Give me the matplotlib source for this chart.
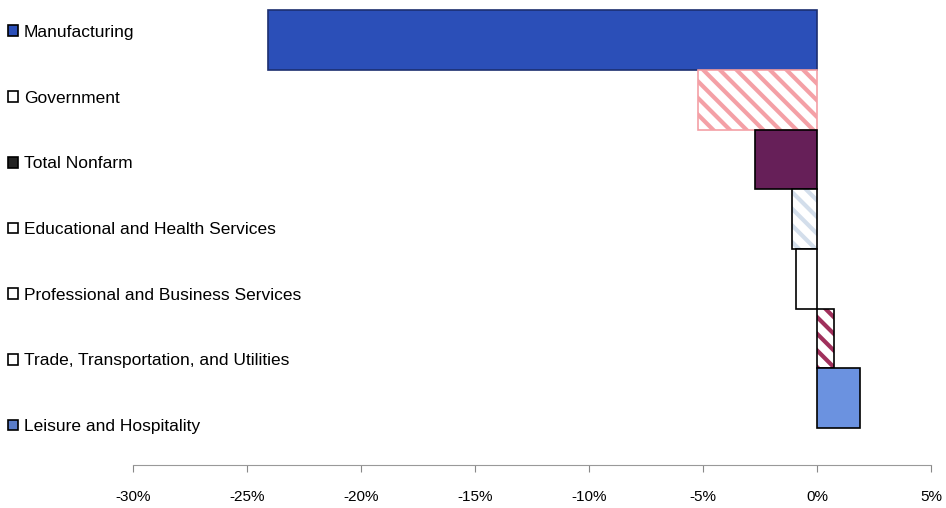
import matplotlib.pyplot as plt
import numpy as np

plt.rcParams['font.family'] = ['Liberation Sans', 'DejaVu Sans']
plt.rcParams['hatch.linewidth'] = 3.0

sectors = ['Manufacturing', 'Government', 'Total Nonfarm',
           'Educational and Health Services', 'Professional and Business Services',
           'Trade, Transportation, and Utilities', 'Leisure and Hospitality']
changes = [-24.1, -5.2, -2.7, -1.1, -0.9, 0.75, 1.9]  # percent change

fills = ['#2b4fb8', 'white', '#661f58', 'white', 'white', 'white', '#6b92e0']
hatches = [None, '\\\\', None, '\\\\', None, '\\\\', None]
hatch_colors = [None, '#f4a0a6', None, '#d3deeb', None, '#a0305c', None]
edges = ['#1c2f70', '#f4a0a6', 'black', 'black', 'black', 'black', 'black']
legend_fills = ['#2b4fb8', 'white', '#222222', 'white', 'white', 'white', '#5a7cc8']

fig = plt.figure(figsize=(9.46, 5.08), dpi=100)
ax = fig.add_axes([133 / 946, 43 / 508, 798 / 946, 465 / 508])

y = np.arange(len(sectors))
for i in range(len(sectors)):
    if hatches[i]:
        ax.barh(y[i], changes[i], height=1.0, color=fills[i], hatch=hatches[i],
                edgecolor=hatch_colors[i], linewidth=0)
        ax.barh(y[i], changes[i], height=1.0, fill=False, edgecolor=edges[i], linewidth=1.2)
    else:
        ax.barh(y[i], changes[i], height=1.0, color=fills[i], edgecolor=edges[i], linewidth=1.2)

ax.set_xlim(-30, 5)
ax.set_ylim(7.12, -0.67)
ax.set_xticks(np.arange(-30, 6, 5))
ax.set_xticklabels([f'{v}%' for v in range(-30, 6, 5)], fontsize=11)
ax.tick_params(axis='x', direction='out', length=5, color='#888888', pad=13)
ax.set_yticks([])
for s in ['top', 'right', 'left']:
    ax.spines[s].set_visible(False)
ax.spines['bottom'].set_color('#999999')

# legend on the left side
handles = [plt.Rectangle((0, 0), 1, 1, facecolor=legend_fills[i], edgecolor='black', linewidth=1.2)
           for i in range(len(sectors))]
fig.legend(handles, sectors, loc='upper left', bbox_to_anchor=(0.001, 0.9646), frameon=False,
           fontsize=12.5, handlelength=0.57, handleheight=0.57, handletextpad=0.35,
           labelspacing=2.92, borderaxespad=0)

plt.savefig('out.png')
plt.close()
